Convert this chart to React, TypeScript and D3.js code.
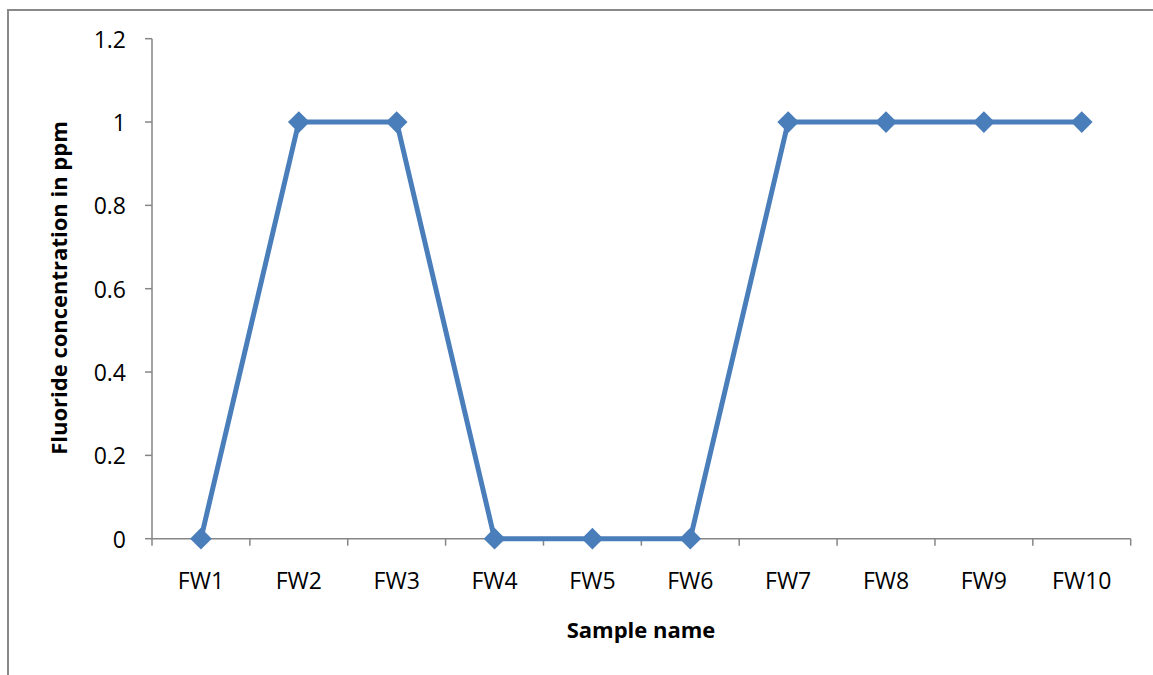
import React from "react";
import * as d3 from "d3";

const categories = ["FW1", "FW2", "FW3", "FW4", "FW5", "FW6", "FW7", "FW8", "FW9", "FW10"];
const fluoride = [0, 1, 1, 0, 0, 0, 1, 1, 1, 1];
const yTicks = [0, 0.2, 0.4, 0.6, 0.8, 1, 1.2];

const W = 1153;
const H = 675;
const plot = { left: 152, right: 1130.7, top: 38.7, bottom: 538.7 };
const axisColor = "#868686";
const lineColor = "#4A7EBB";
const font = "'Open Sans', 'Noto Sans', sans-serif";

export default function App() {
  const x = d3
    .scaleBand<string>()
    .domain(categories)
    .range([plot.left, plot.right])
    .paddingInner(0)
    .paddingOuter(0);
  const y = d3.scaleLinear().domain([0, 1.2]).range([plot.bottom, plot.top]);

  const cx = (c: string) => (x(c) ?? 0) + x.bandwidth() / 2;
  const line = d3
    .line<number>()
    .x((_, i) => cx(categories[i]))
    .y((v) => y(v));

  const boundaries = categories.map((c) => x(c) ?? 0).concat([plot.right]);
  const diamond = d3.symbol(d3.symbolDiamond2, 300)();

  return (
    <svg
      width={W}
      height={H}
      style={{ position: "absolute", left: 0, top: 0, background: "#fff" }}
    >
      {/* chart frame */}
      <rect x={8} y={10} width={1300} height={800} fill="none" stroke="#898989" strokeWidth={2} />

      {/* y axis */}
      <line x1={plot.left} x2={plot.left} y1={plot.top} y2={plot.bottom} stroke={axisColor} strokeWidth={1.5} />
      {yTicks.map((t) => (
        <g key={t}>
          <line x1={plot.left - 7} x2={plot.left} y1={y(t)} y2={y(t)} stroke={axisColor} strokeWidth={1.5} />
          <text
            x={126}
            y={y(t)}
            textAnchor="end"
            dominantBaseline="central"
            fontFamily={font}
            fontSize={23}
            fill="#000"
          >
            {d3.format("~g")(t)}
          </text>
        </g>
      ))}

      {/* x axis */}
      <line x1={plot.left} x2={plot.right} y1={plot.bottom} y2={plot.bottom} stroke={axisColor} strokeWidth={1.5} />
      {boundaries.map((b, i) => (
        <line key={i} x1={b} x2={b} y1={plot.bottom} y2={plot.bottom + 7} stroke={axisColor} strokeWidth={1.5} />
      ))}
      {categories.map((c) => (
        <text key={c} x={cx(c)} y={589} textAnchor="middle" fontFamily={font} fontSize={23} fill="#000">
          {c}
        </text>
      ))}

      {/* series */}
      <path d={line(fluoride) ?? ""} fill="none" stroke={lineColor} strokeWidth={5} strokeLinejoin="round" />
      {fluoride.map((v, i) => (
        <path key={i} d={diamond ?? ""} transform={`translate(${cx(categories[i])},${y(v)})`} fill={lineColor} />
      ))}

      {/* axis titles */}
      <text
        x={641}
        y={638}
        textAnchor="middle"
        fontFamily={font}
        fontWeight="bold"
        fontSize={22}
        fill="#000"
      >
        Sample name
      </text>
      <text
        transform={`translate(67,288) rotate(-90)`}
        textAnchor="middle"
        fontFamily={font}
        fontWeight="bold"
        fontSize={22}
        fill="#000"
      >
        Fluoride concentration in ppm
      </text>
    </svg>
  );
}
